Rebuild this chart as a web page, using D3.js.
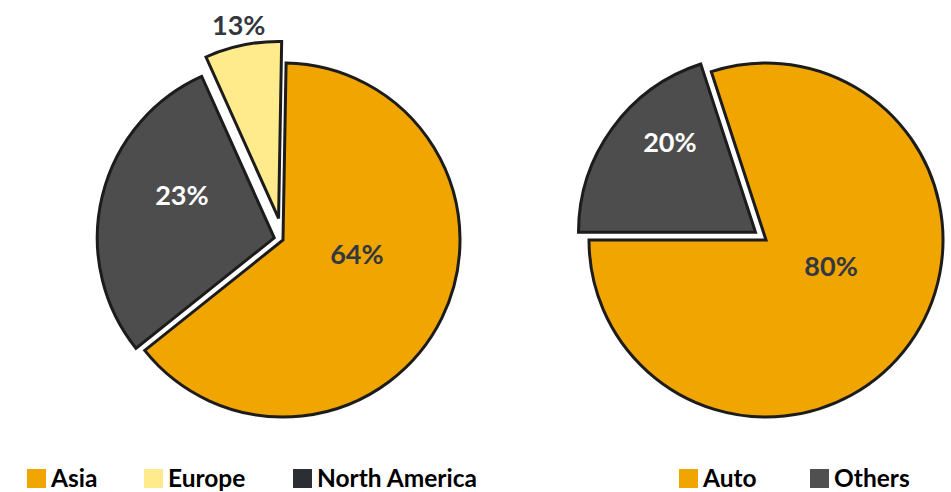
<!DOCTYPE html>
<html lang="en">
<head>
    <meta charset="UTF-8">
    <title>Pies</title>
    <style>
        body { margin: 0; background: #fff; }
        text { font-family: Lato, "Open Sans", sans-serif; font-weight: 700; }
    </style>
</head>
<body>
    <svg id="chart" width="951" height="492"></svg>

    <script src="https://d3js.org/d3.v7.min.js"></script>
    <script>
        // left pie: region
        const regions = ["Asia", "North America", "Europe"];
        const regionShares = [64, 29, 7];
        const regionLabels = ["64%", "23%", "13%"];
        const regionLegend = ["Asia", "Europe", "North America"];

        // right pie: sector
        const sectors = ["Auto", "Others"];
        const sectorShares = [80, 20];
        const sectorLabels = ["80%", "20%"];
        const sectorLegend = ["Auto", "Others"];

        const colors = {
            "Asia": "#f0a500",
            "Europe": "#ffea8c",
            "North America": "#4d4d4d",
            "Auto": "#f0a500",
            "Others": "#4d4d4d"
        };
        const swatch = {
            "Asia": "#f0a500",
            "Europe": "#ffea8c",
            "North America": "#2b2e33",
            "Auto": "#f0a500",
            "Others": "#505050"
        };
        const labelColor = {
            "Asia": "#333840",
            "Europe": "#333840",
            "North America": "#ffffff",
            "Auto": "#333840",
            "Others": "#ffffff"
        };

        const svg = d3.select("#chart");
        const deg = Math.PI / 180;
        const radius = 177;

        function drawPie(opts) {
            const pie = d3.pie().sort(null)
                .startAngle(opts.start)
                .endAngle(opts.start + 2 * Math.PI);
            const arc = d3.arc().innerRadius(0).outerRadius(radius);
            const arcs = pie(opts.values).map((d, i) => ({ ...d, name: opts.names[i], label: opts.labels[i], idx: i }));

            const g = svg.append("g").attr("transform", `translate(${opts.cx}, ${opts.cy})`);

            const slice = g.selectAll("g.slice")
                .data(arcs)
                .enter()
                .append("g")
                .attr("class", "slice")
                .attr("transform", (d) => {
                    const mid = (d.startAngle + d.endAngle) / 2;
                    const off = opts.explode[d.idx];
                    return `translate(${Math.sin(mid) * off}, ${-Math.cos(mid) * off})`;
                });

            slice.append("path")
                .attr("d", arc)
                .attr("fill", (d) => colors[d.name])
                .attr("stroke", "#1c1c1c")
                .attr("stroke-width", 3)
                .attr("stroke-linejoin", "miter");

            slice.append("text")
                .attr("transform", (d) => {
                    const t = opts.labelT[d.idx];
                    const a = d.startAngle + t * (d.endAngle - d.startAngle);
                    const r = opts.labelR[d.idx];
                    return `translate(${Math.sin(a) * r}, ${-Math.cos(a) * r})`;
                })
                .attr("text-anchor", "middle")
                .attr("dominant-baseline", "central")
                .attr("font-size", 27)
                .attr("fill", (d) => labelColor[d.name])
                .text((d) => d.label);
        }

        drawPie({
            cx: 283, cy: 240, start: 1 * deg,
            values: regionShares, names: regions, labels: regionLabels,
            explode: [0, 9, 22],
            labelT: [0.43, 0.61, 0.5],
            labelR: [75, 102, 198]
        });

        drawPie({
            cx: 766, cy: 240, start: -18 * deg,
            values: sectorShares, names: sectors, labels: sectorLabels,
            explode: [0, 13],
            labelT: [0.45, 0.65],
            labelR: [70, 125]
        });

        function drawLegend(items, xs) {
            const lg = svg.append("g");
            const item = lg.selectAll("g")
                .data(items)
                .enter()
                .append("g")
                .attr("transform", (d, i) => `translate(${xs[i]}, 469)`);
            item.append("rect")
                .attr("width", 19)
                .attr("height", 19)
                .attr("fill", (d) => swatch[d]);
            item.append("text")
                .attr("x", 24)
                .attr("y", 18)
                .attr("font-size", 24.5)
                .attr("fill", "#000")
                .text((d) => d);
        }

        drawLegend(regionLegend, [27, 144, 293]);
        drawLegend(sectorLegend, [679, 810]);
    </script>
</body>
</html>
